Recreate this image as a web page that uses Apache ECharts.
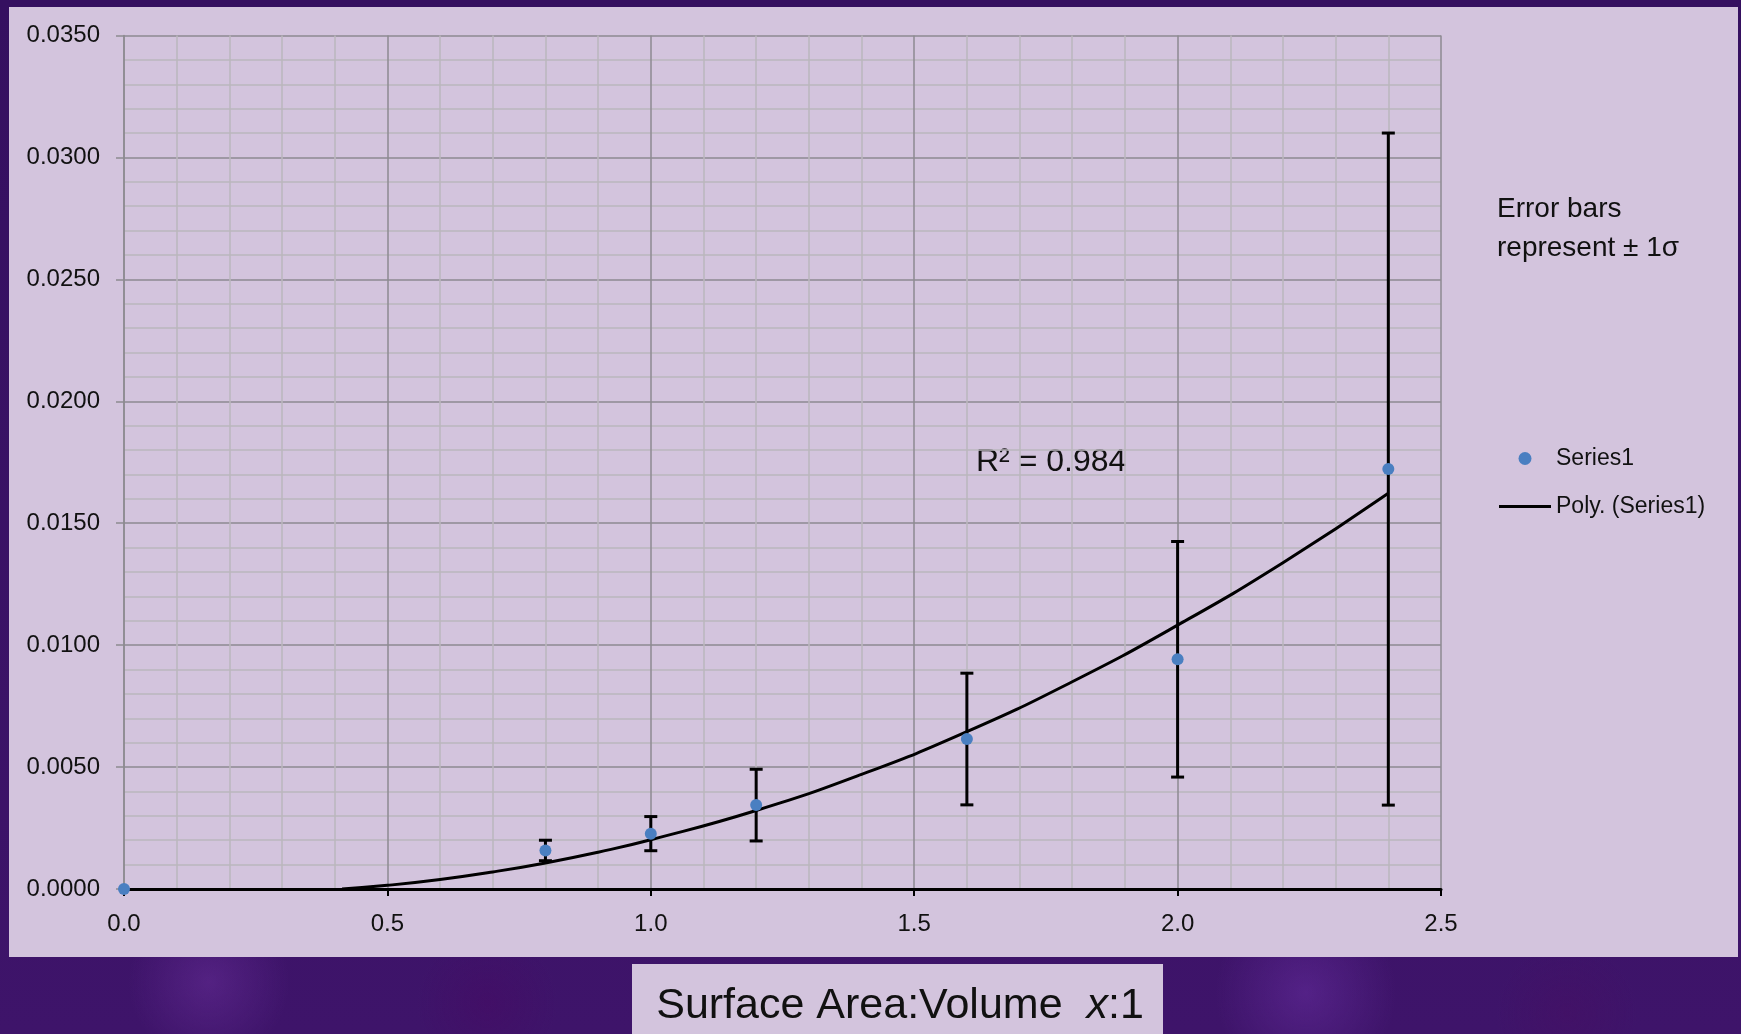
<!DOCTYPE html>
<html>
<head>
<meta charset="utf-8">
<script src="https://cdn.jsdelivr.net/npm/echarts@6/dist/echarts.min.js"></script>
<style>
  html, body { margin: 0; padding: 0; width: 1741px; height: 1034px; overflow: hidden; }
  body {
    background-color: #3a1262;
    background-image:
      radial-gradient(circle at 12% 95%, rgba(110,50,160,0.45) 0, rgba(110,50,160,0) 80px),
      radial-gradient(circle at 28% 97%, rgba(70,10,100,0.5) 0, rgba(70,10,100,0) 70px),
      radial-gradient(circle at 75% 96%, rgba(110,50,170,0.45) 0, rgba(110,50,170,0) 90px),
      radial-gradient(circle at 90% 98%, rgba(70,15,100,0.5) 0, rgba(70,15,100,0) 70px),
      linear-gradient(180deg, #351060 0%, #3e146a 100%);
  }
  #panel { position: absolute; left: 9px; top: 7px; width: 1729px; height: 950px; background: #d3c4dd; }
  #titlebox { position: absolute; left: 632px; top: 964px; width: 531px; height: 80px; background: #d3c4dd; }
  #chart { position: absolute; left: 0; top: 0; width: 1741px; height: 1034px; }
</style>
</head>
<body>
<div id="panel"></div>
<div id="titlebox"></div>
<div id="chart"></div>
<script>
const xValues = [0.0, 0.8, 1.0, 1.2, 1.6, 2.0, 2.4];
const yValues = [0.0000, 0.00158, 0.00227, 0.00344, 0.00615, 0.00942, 0.01722];
const yErrors = [0, 0.00042, 0.0007, 0.00147, 0.0027, 0.00483, 0.01378];

// Polynomial trendline
const trendX = [0.414, 0.5, 0.6, 0.7, 0.8, 0.9, 1.0, 1.2, 1.4, 1.6, 1.8, 2.0, 2.2, 2.4];
const trendY = [0.0000, 0.00015, 0.00039, 0.00070, 0.00107, 0.00151, 0.00202, 0.00322, 0.00470, 0.00645, 0.00850, 0.01082, 0.01338, 0.01623];

const xTicks = ['0.0', '0.5', '1.0', '1.5', '2.0', '2.5'];
const yTicks = ['0.0000', '0.0050', '0.0100', '0.0150', '0.0200', '0.0250', '0.0300', '0.0350'];

const FONT = "'Liberation Sans', Arial, sans-serif";

const points = xValues.map((x, i) => [x, yValues[i]]);
const errData = xValues.map((x, i) => [x, yValues[i] - yErrors[i], yValues[i] + yErrors[i], yErrors[i]]);
const trend = trendX.map((x, i) => [x, trendY[i]]);

const chart = echarts.init(document.getElementById('chart'), null, { renderer: 'canvas' });

chart.setOption({
  backgroundColor: 'transparent',
  animation: false,
  title: {
    text: '{n|Surface Area:Volume  }{i|x}{n|:1}',
    left: 895, top: 980, textAlign: 'center',
    textStyle: {
      fontWeight: 'normal',
      rich: {
        n: { fontFamily: FONT, fontSize: 43, color: '#111', fontWeight: 'normal' },
        i: { fontFamily: FONT, fontSize: 43, color: '#111', fontStyle: 'italic', fontWeight: 'normal' }
      }
    }
  },
  grid: { left: 124, right: 300, top: 35.5, bottom: 145, containLabel: false },
  xAxis: {
    type: 'value', min: 0, max: 2.5, interval: 0.5,
    axisLine: { show: true, onZero: false, lineStyle: { color: '#000', width: 3 } },
    axisTick: { show: true, length: 7, lineStyle: { color: '#000', width: 2 } },
    axisLabel: {
      margin: 23, color: '#111', fontFamily: FONT, fontSize: 24,
      formatter: (v) => xTicks[Math.round(v / 0.5)]
    },
    splitLine: { show: true, lineStyle: { color: '#8d8a90', width: 1.5 } },
    minorTick: { show: false, splitNumber: 5 },
    minorSplitLine: { show: true, lineStyle: { color: '#bab7bd', width: 1.5 } }
  },
  yAxis: {
    type: 'value', min: 0, max: 0.035, interval: 0.005,
    axisLine: { show: true, lineStyle: { color: '#8d8a90', width: 1.5 } },
    axisTick: { show: true, length: 8, lineStyle: { color: '#8d8a90', width: 1.5 } },
    axisLabel: {
      margin: 24, color: '#111', fontFamily: FONT, fontSize: 24,
      formatter: (v) => yTicks[Math.round(v / 0.005)]
    },
    splitLine: { show: true, lineStyle: { color: '#8d8a90', width: 1.5 } },
    minorTick: { show: false, splitNumber: 5 },
    minorSplitLine: { show: true, lineStyle: { color: '#bab7bd', width: 1.5 } }
  },
  legend: {
    orient: 'vertical', left: 1494, top: 442, itemWidth: 52, itemHeight: 13, itemGap: 25,
    textStyle: { fontFamily: FONT, fontSize: 23, color: '#111' },
    data: [
      { name: 'Series1', icon: 'circle' },
      { name: 'Poly. (Series1)', icon: 'path://M0,0H52V3H0Z' }
    ]
  },
  graphic: [
    { type: 'text', left: 976, top: 446, style: { text: 'R² = 0.984', font: "32px 'Liberation Sans', Arial, sans-serif", fill: '#111' } },
    { type: 'text', left: 1497, top: 190, style: { text: 'Error bars\nrepresent ± 1σ', font: "28px 'Liberation Sans', Arial, sans-serif", lineHeight: 39, fill: '#111' } }
  ],
  series: [
    {
      name: 'errorbars', type: 'custom', z: 3,
      data: errData,
      renderItem: function (params, api) {
        if (api.value(3) <= 0) return null;
        const x = api.value(0);
        const lo = api.coord([x, api.value(1)]);
        const hi = api.coord([x, api.value(2)]);
        const cap = 6.5;
        const st = { stroke: '#000', lineWidth: 3 };
        return {
          type: 'group',
          children: [
            { type: 'line', shape: { x1: lo[0], y1: lo[1], x2: hi[0], y2: hi[1] }, style: st },
            { type: 'line', shape: { x1: lo[0] - cap, y1: lo[1], x2: lo[0] + cap, y2: lo[1] }, style: st },
            { type: 'line', shape: { x1: hi[0] - cap, y1: hi[1], x2: hi[0] + cap, y2: hi[1] }, style: st }
          ]
        };
      }
    },
    {
      name: 'Poly. (Series1)', type: 'line', z: 4,
      data: trend, smooth: true, symbol: 'none', showSymbol: false,
      lineStyle: { color: '#000', width: 3 },
      itemStyle: { color: '#000' }
    },
    {
      name: 'Series1', type: 'scatter', z: 5,
      data: points, symbol: 'circle', symbolSize: 12,
      itemStyle: { color: '#4a7fc1', opacity: 1 }
    }
  ]
});
</script>
</body>
</html>
